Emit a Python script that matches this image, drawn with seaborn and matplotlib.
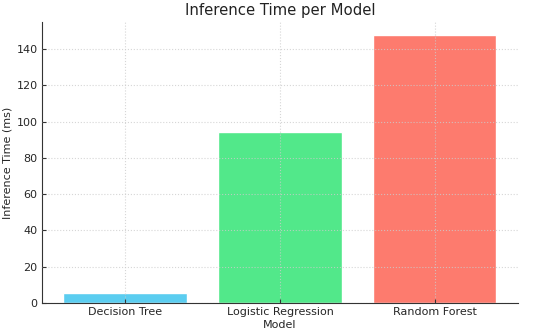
import matplotlib
matplotlib.use("Agg")
import matplotlib.pyplot as plt
import seaborn as sns
import pandas as pd

models = ["Decision Tree", "Logistic Regression", "Random Forest"]
inference_ms = [5.8, 94.3, 147.8]
colors = ["#5bcdf0", "#52e88a", "#fd7b6e"]

sns.set_style("ticks")
plt.rcParams['font.family'] = ['DejaVu Sans']

df = pd.DataFrame({"Model": models, "Inference Time (ms)": inference_ms})

fig = plt.figure(figsize=(5.5, 3.36), dpi=100)
ax = fig.add_axes([0.076, 0.098, 0.866, 0.837])
sns.barplot(data=df, x="Model", y="Inference Time (ms)", hue="Model",
            palette=colors, legend=False, ax=ax, width=0.8, saturation=1)
ax.set_axisbelow(False)
ax.grid(True, linestyle=':', color='#cccccc', linewidth=0.8, alpha=0.8)
ax.set_xlim(-0.54, 2.54)
ax.set_ylim(0, 155)
ax.set_yticks([0, 20, 40, 60, 80, 100, 120, 140])
ax.set_title("Inference Time per Model", fontsize=10.7, color='#222222', pad=5)
ax.set_xlabel("Model", fontsize=8, labelpad=2)
ax.set_ylabel("Inference Time (ms)", fontsize=8, labelpad=3)
ax.tick_params(labelsize=8, direction='in', length=3, pad=3, color='#333333')
for s in ax.spines.values():
    s.set_color('#333333')
sns.despine(ax=ax)
fig.savefig("out.png", dpi=100)
